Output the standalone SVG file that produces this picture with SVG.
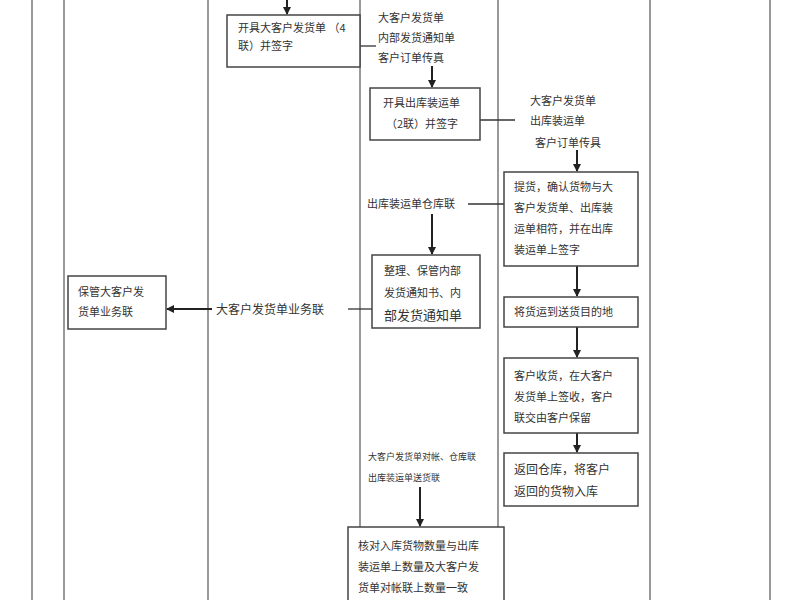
<svg xmlns="http://www.w3.org/2000/svg" width="800" height="600" viewBox="0 0 800 600">
<defs>
<marker id="ah" markerWidth="8" markerHeight="8" refX="7" refY="4" orient="auto" markerUnits="userSpaceOnUse"><path d="M0,0 L8,4 L0,8 z" fill="#222"/></marker>
<style>
.lane{stroke:#777;stroke-width:1.5;fill:none}
.box{fill:#fff;stroke:#444;stroke-width:1.5}
.c{stroke:#333;stroke-width:1.3;fill:none}
.a{stroke:#222;stroke-width:2;fill:none;marker-end:url(#ah)}
text{font-family:"Noto Sans CJK SC","Liberation Serif",serif;font-size:11px;fill:#333}
.s{font-size:9px}
</style>
</defs>
<rect width="800" height="600" fill="#fff"/>
<g id="lanes">
<line class="lane" x1="32" y1="0" x2="32" y2="600"/>
<line class="lane" x1="64" y1="0" x2="64" y2="600"/>
<line class="lane" x1="208" y1="0" x2="208" y2="600"/>
<line class="lane" x1="360" y1="0" x2="360" y2="527"/>
<line class="lane" x1="498" y1="0" x2="498" y2="527"/>
<line class="lane" x1="650" y1="0" x2="650" y2="600"/>
<line class="lane" x1="770" y1="0" x2="770" y2="600"/>
</g>
<g id="connectors">
<line class="a" x1="287" y1="0" x2="287" y2="14"/>
<line class="c" x1="360" y1="46" x2="376" y2="46"/>
<line class="a" x1="432" y1="66" x2="432" y2="87"/>
<line class="c" x1="480" y1="120" x2="515" y2="120"/>
<line class="a" x1="577" y1="150" x2="577" y2="171"/>
<line class="c" x1="468" y1="204" x2="504" y2="204"/>
<line class="a" x1="432" y1="214" x2="432" y2="254"/>
<line class="c" x1="348" y1="309" x2="372" y2="309"/>
<line class="a" x1="212" y1="309" x2="167" y2="309"/>
<line class="a" x1="577" y1="266" x2="577" y2="296"/>
<line class="a" x1="577" y1="327" x2="577" y2="357"/>
<line class="a" x1="577" y1="433" x2="577" y2="452"/>
<line class="a" x1="420" y1="487" x2="420" y2="526"/>
</g>
<g id="labels">
<text x="378" y="22">大客户发货单</text>
<text x="378" y="42">内部发货通知单</text>
<text x="378" y="62">客户订单传真</text>
<text x="530" y="105">大客户发货单</text>
<text x="530" y="125">出库装运单</text>
<text x="535" y="147">客户订单传具</text>
<text x="367" y="208">出库装运单仓库联</text>
<text x="216" y="314" style="font-size:12px">大客户发货单业务联</text>
<text class="s" x="368" y="460">大客户发货单对帐、仓库联</text>
<text class="s" x="368" y="481">出库装运单送货联</text>
</g>
<g id="nA"><rect class="box" x="227" y="15" width="133" height="52"/><text x="238" y="32">开具大客户发货单 （4</text><text x="238" y="50">联）并签字</text></g>
<g id="nB"><rect class="box" x="370" y="88" width="110" height="52"/><text x="383" y="107">开具出库装运单</text><text x="386" y="128">（2联）并签字</text></g>
<g id="nC"><rect class="box" x="504" y="172" width="134" height="94"/><text x="514" y="191">提货，确认货物与大</text><text x="514" y="212">客户发货单、出库装</text><text x="514" y="233">运单相符，并在出库</text><text x="514" y="254">装运单上签字</text></g>
<g id="nD"><rect class="box" x="372" y="255" width="108" height="73"/><text x="384" y="275">整理、保管内部</text><text x="384" y="297">发货通知书、内</text><text x="384" y="320" style="font-size:13px">部发货通知单</text></g>
<g id="nE"><rect class="box" x="68" y="276" width="98" height="53"/><text x="78" y="296">保管大客户发</text><text x="78" y="316">货单业务联</text></g>
<g id="nF"><rect class="box" x="504" y="297" width="134" height="30"/><text x="514" y="316">将货运到送货目的地</text></g>
<g id="nG"><rect class="box" x="504" y="358" width="134" height="75"/><text x="514" y="380">客户收货，在大客户</text><text x="514" y="401">发货单上签收，客户</text><text x="514" y="422">联交由客户保留</text></g>
<g id="nH"><rect class="box" x="504" y="453" width="134" height="53"/><text x="514" y="474" style="font-size:12px">返回仓库，将客户</text><text x="514" y="496" style="font-size:12px">返回的货物入库</text></g>
<g id="nI"><rect class="box" x="348" y="527" width="156" height="80"/><text x="358" y="550">核对入库货物数量与出库</text><text x="358" y="571">装运单上数量及大客户发</text><text x="358" y="592">货单对帐联上数量一致</text></g>
</svg>
